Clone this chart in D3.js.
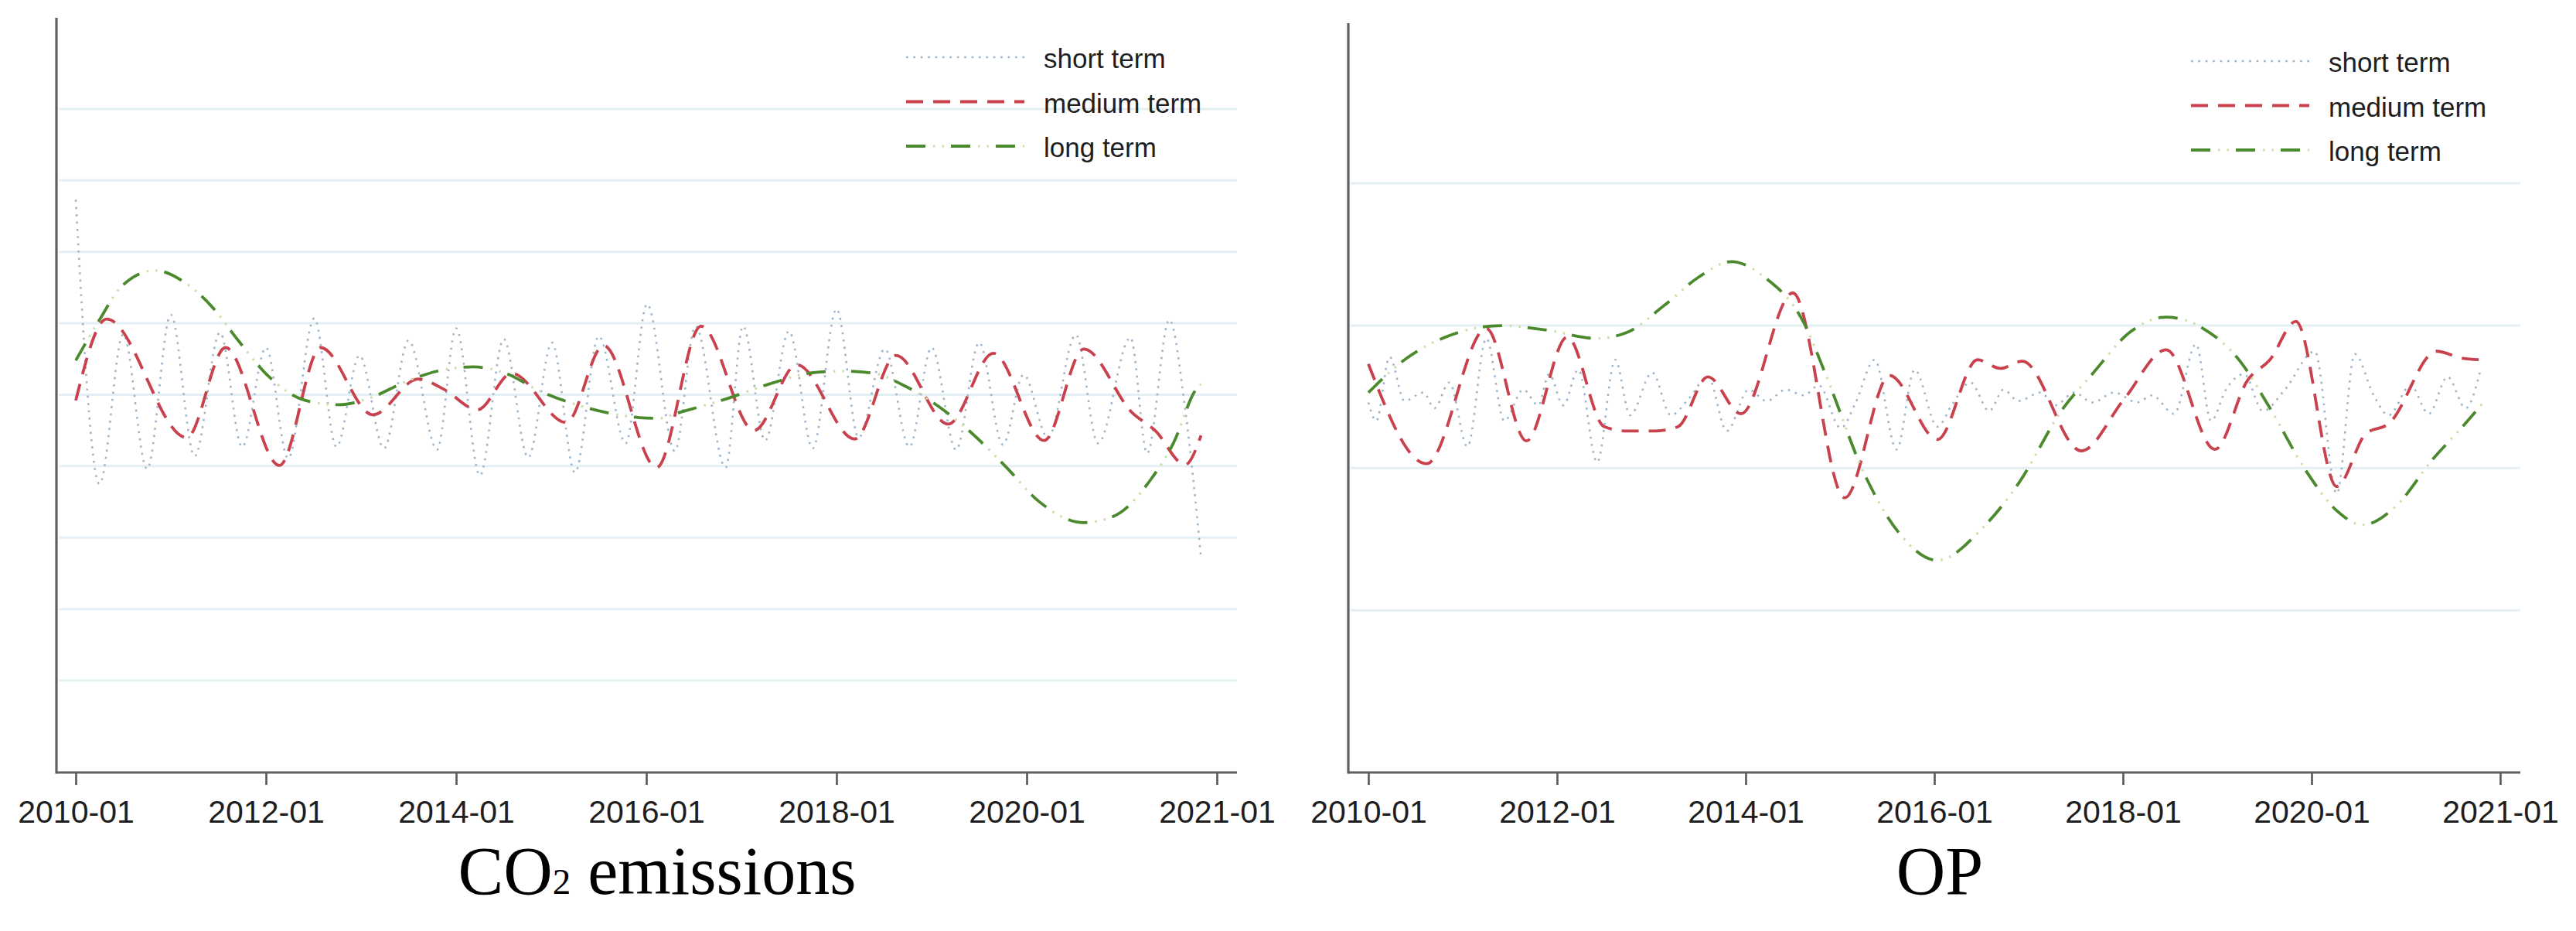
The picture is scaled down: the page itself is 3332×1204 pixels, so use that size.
<!DOCTYPE html>
<html><head><meta charset="utf-8">
<script src="https://cdn.jsdelivr.net/npm/d3@7"></script>
<style>html,body{margin:0;padding:0;background:#fff;} svg{display:block;}</style>
</head><body>
<svg id="chart" width="3332" height="1204"></svg>
<script>
// ---------- DATA (month index from 2010-01, value in y-grid units) ----------
const tickMonths = [0, 24, 48, 72, 96, 120, 144];
const tickLabels = ["2010-01", "2012-01", "2014-01", "2016-01", "2018-01", "2020-01", "2021-01"];
const seriesNames = ["short term", "medium term", "long term"];
const panelTitles = ["CO2 emissions", "OP"];
const co2Grid = [-4, -3, -2, -1, 0, 1, 2, 3, 4];
const opGrid = [-1.5, -0.5, 0.5, 1.5];

const co2Short = [[0,2.73],[3,-1.25],[6,0.85],[9,-1.04],[12,1.12],[15,-0.86],[18.2,0.87],[21,-0.73],[24,0.66],[26.8,-0.89],[30.1,1.07],[32.9,-0.73],[35.8,0.55],[38.9,-0.75],[42,0.76],[45.6,-0.77],[48,0.93],[51,-1.13],[54,0.78],[57.1,-0.88],[60.1,0.73],[63,-1.09],[66,0.82],[69.4,-0.68],[72.1,1.27],[75.6,-0.79],[78.2,0.96],[82,-1.02],[84.2,0.96],[87,-0.64],[90,0.89],[93,-0.75],[96,1.2],[98.8,-0.6],[102.1,0.64],[105.2,-0.73],[108,0.66],[111.1,-0.77],[114,0.73],[117,-0.7],[119.6,0.28],[122.7,-0.6],[126.2,0.84],[129,-0.68],[133.1,0.8],[135.2,-0.82],[138,1.05],[140,-0.2],[142,-2.28]];
const co2Medium = [[0,-0.08],[3.9,1.06],[14,-0.6],[18.9,0.66],[25.7,-0.99],[30.9,0.66],[37.5,-0.28],[43.2,0.22],[46.4,0.08],[50.7,-0.21],[55,0.3],[61.9,-0.39],[66.6,0.69],[73.3,-1.02],[78.9,0.96],[85.6,-0.5],[91,0.42],[98.3,-0.62],[103.5,0.55],[110.1,-0.41],[115.8,0.58],[122.2,-0.64],[127.2,0.64],[133.3,-0.25],[136.2,-0.5],[140,-0.98],[142,-0.57]];
const co2Long = [[0,0.48],[3,1.05],[5.8,1.52],[10,1.74],[13.9,1.56],[17.2,1.23],[20.5,0.76],[24.3,0.26],[29,-0.08],[33.2,-0.14],[37,-0.05],[41.8,0.19],[45.6,0.33],[50.2,0.39],[54,0.31],[58.8,0.04],[63.5,-0.15],[67,-0.25],[71.1,-0.32],[73.5,-0.33],[76.1,-0.25],[82.3,-0.05],[87.5,0.15],[93.1,0.31],[96.9,0.33],[100.7,0.3],[104.5,0.13],[109.7,-0.23],[113,-0.53],[117.3,-1.0],[121.5,-1.49],[127.2,-1.79],[131,-1.7],[135.7,-1.18],[138.5,-0.68],[141.4,0.08],[142,0.15]];

const opShort = [[0,-0.04],[1,-0.17],[2.7,0.28],[4.6,-0.03],[7,0.03],[8.4,-0.08],[10.3,0.1],[12.6,-0.35],[15,0.41],[17.3,-0.17],[19.7,0.05],[21.6,-0.06],[23,0.16],[24.8,-0.06],[26.7,0.19],[29.1,-0.46],[31.4,0.26],[33.3,-0.13],[36.1,0.17],[38.5,-0.13],[40.8,-0.01],[43.2,0.14],[45.6,-0.24],[48.4,0.05],[50.7,-0.03],[53.1,0.05],[55.4,0.01],[57.3,0.08],[60.1,-0.22],[62,-0.04],[64.4,0.26],[67.2,-0.37],[69.5,0.19],[72.4,-0.21],[74.2,-0.06],[76.6,0.1],[79,-0.1],[80.8,0.05],[82.7,-0.03],[85.5,0.03],[87.4,-0.06],[89.8,0.03],[92.1,-0.04],[94.9,0.03],[97.8,-0.04],[99.7,0.01],[102.5,-0.12],[105.3,0.37],[107.2,-0.17],[109.1,0.05],[111.4,0.16],[113.8,-0.1],[116.6,0.05],[120.4,0.32],[123.2,-0.68],[125.5,0.3],[127.9,0.01],[129.8,-0.13],[132.6,0.08],[134.9,-0.12],[137.3,0.14],[139.6,-0.08],[141.5,0.19]];
const opMedium = [[0,0.23],[7.4,-0.47],[15,0.48],[20.1,-0.31],[25.3,0.42],[30,-0.21],[32.8,-0.24],[36.6,-0.24],[39.4,-0.21],[43.2,0.14],[47.4,-0.12],[54,0.73],[60.6,-0.71],[66.3,0.15],[72.4,-0.3],[77.5,0.26],[80.4,0.2],[83.2,0.25],[90.7,-0.38],[96.1,-0.02],[101.5,0.33],[107.7,-0.37],[111.9,0.12],[114.7,0.26],[118,0.53],[123.2,-0.63],[126.9,-0.26],[129.8,-0.19],[135.9,0.32],[139.2,0.27],[141.5,0.26]];
const opLong = [[0,0.03],[4.6,0.26],[10.3,0.43],[16.9,0.5],[22.5,0.47],[29.1,0.41],[32.8,0.45],[37.6,0.64],[42,0.84],[46.2,0.95],[50.4,0.84],[55.4,0.52],[58.3,0.14],[63,-0.53],[67.7,-0.97],[72.4,-1.15],[78,-0.93],[82.7,-0.61],[88.4,-0.08],[92.1,0.16],[96.8,0.45],[101.5,0.56],[106.2,0.48],[110.9,0.25],[114.7,-0.08],[119.4,-0.53],[123.2,-0.8],[126.5,-0.9],[130.7,-0.77],[135.4,-0.44],[139.2,-0.21],[142,-0.03]];

// ---------- LAYOUT ----------
const panels = [
  {title: panelTitles[0], grid: co2Grid, series: [co2Short, co2Medium, co2Long],
   axisX: 73, axisTop: 23, axisEnd: 1600, xRange: [98, 1574], yDomain: [-5.288, 5.277],
   legendX: 1172, legendY: 74, titleX: 850},
  {title: panelTitles[1], grid: opGrid, series: [opShort, opMedium, opLong],
   axisX: 1744, axisTop: 30, axisEnd: 3260, xRange: [1770, 3234], yDomain: [-2.64, 2.625],
   legendX: 2834, legendY: 79, titleX: 2509}
];
const baseY = 999;
const colShort = "#9db6cc", colMed = "#c9414d", colLong = "#4b8a2c", colLongDot = "#cddca8";

const svg = d3.select("#chart");
svg.append("rect").attr("width", 3332).attr("height", 1204).attr("fill", "#fff");

function styleShort(sel){ return sel.attr("stroke", colShort).attr("stroke-width", 2.6).attr("stroke-dasharray", "2.6,6.8").attr("fill", "none"); }
function styleMed(sel){ return sel.attr("stroke", colMed).attr("stroke-width", 3.8).attr("stroke-dasharray", "22,13").attr("fill", "none"); }
function styleLongDash(sel){ return sel.attr("stroke", colLong).attr("stroke-width", 3.8).attr("stroke-dasharray", "25,33").attr("fill", "none"); }
function styleLongDot(sel){ return sel.attr("stroke", colLongDot).attr("stroke-width", 3.2).attr("stroke-dasharray", "0,35,2.5,9,2.5,9").attr("fill", "none"); }

panels.forEach((p, pi) => {
  const g = svg.append("g");
  const x = d3.scaleLinear().domain([0, 144]).range(p.xRange);
  const y = d3.scaleLinear().domain(p.yDomain).range([baseY, p.axisTop]);

  // gridlines
  g.append("g").selectAll("line").data(p.grid).join("line")
    .attr("x1", p.axisX + 3).attr("x2", p.axisEnd)
    .attr("y1", d => y(d)).attr("y2", d => y(d))
    .attr("stroke", "#e4eff3").attr("stroke-width", 3);

  // series
  const line = d3.line().x(d => x(d[0])).y(d => y(d[1])).curve(d3.curveMonotoneX);
  styleShort(g.append("path").attr("d", line(p.series[0])));
  styleMed(g.append("path").attr("d", line(p.series[1])));
  styleLongDot(g.append("path").attr("d", line(p.series[2])));
  styleLongDash(g.append("path").attr("d", line(p.series[2])));

  // x axis
  const xAxis = d3.axisBottom(x).tickValues(tickMonths)
    .tickFormat((d, i) => tickLabels[i]).tickSize(16).tickPadding(20).tickSizeOuter(0);
  const ax = g.append("g").attr("transform", `translate(0,${baseY})`).call(xAxis);
  ax.select(".domain").remove();
  ax.selectAll(".tick line").attr("stroke", "#555").attr("stroke-width", 2.6);
  ax.selectAll(".tick text").attr("fill", "#1e1e1e")
    .style("font-family", "'Liberation Sans', Arial, sans-serif").style("font-size", "41px");

  // axis lines
  g.append("line").attr("x1", p.axisX).attr("x2", p.axisEnd).attr("y1", baseY).attr("y2", baseY)
    .attr("stroke", "#5f5f5f").attr("stroke-width", 3.2);
  g.append("line").attr("x1", p.axisX).attr("x2", p.axisX).attr("y1", p.axisTop).attr("y2", baseY + 1.6)
    .attr("stroke", "#5f5f5f").attr("stroke-width", 3.2);

  // legend
  const styles = [styleShort, styleMed, null];
  seriesNames.forEach((name, i) => {
    const ly = p.legendY + i * 57.5;
    if (i < 2) {
      styles[i](g.append("line").attr("x1", p.legendX).attr("x2", p.legendX + 153).attr("y1", ly).attr("y2", ly));
    } else {
      styleLongDot(g.append("line").attr("x1", p.legendX).attr("x2", p.legendX + 153).attr("y1", ly).attr("y2", ly));
      styleLongDash(g.append("line").attr("x1", p.legendX).attr("x2", p.legendX + 153).attr("y1", ly).attr("y2", ly));
    }
    g.append("text").attr("x", p.legendX + 178).attr("y", ly + 14)
      .attr("fill", "#1e1e1e")
      .style("font-family", "'Liberation Sans', Arial, sans-serif").style("font-size", "35px")
      .text(name);
  });

  // title
  const t = g.append("text").attr("x", p.titleX).attr("y", 1156).attr("text-anchor", "middle")
    .attr("fill", "#000").style("font-family", "'Liberation Serif', 'Times New Roman', serif")
    .style("font-size", "88px");
  if (p.title === "CO2 emissions") {
    t.append("tspan").text("CO");
    t.append("tspan").style("font-size", "47px").text("2");
    t.append("tspan").text(" emissions");
  } else {
    t.text(p.title);
  }
});
</script>
</body></html>
